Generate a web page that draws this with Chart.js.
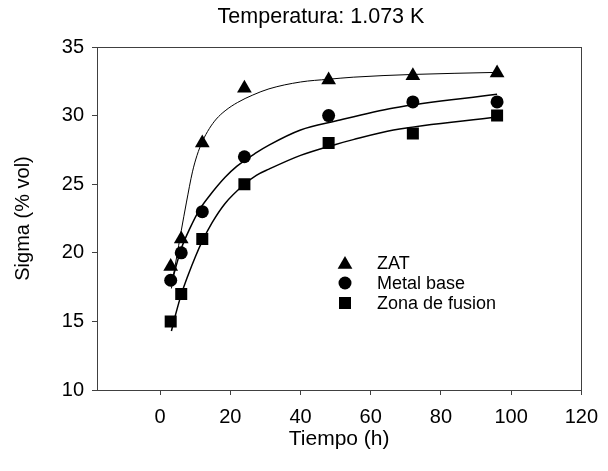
<!DOCTYPE html>
<html>
<head>
<meta charset="utf-8">
<script src="https://cdn.jsdelivr.net/npm/chart.js@4"></script>
<style>
  html, body { margin: 0; padding: 0; background: #fff; }
  #wrap { width: 608px; height: 471px; }
</style>
</head>
<body>
<div id="wrap"><canvas id="grafico"></canvas></div>
<script>
// datos medidos
const tiempo = [3, 6, 12, 24, 48, 72, 96];
const zat = [19, 21, 28, 32, 32.6, 32.9, 33.1];
const metalBase = [18, 20, 23, 27, 30, 31, 31];
const zonaFusion = [15, 17, 21, 25, 28, 28.7, 30];

// curvas de ajuste
const zatAjusteX = [3.2, 4.5, 6, 7.5, 9.2, 10.5, 12, 14, 16, 18.5, 22, 26.4, 31, 40, 48, 55, 72, 96];
const zatAjusteY = [17.4, 19.4, 21.6, 23.7, 25.9, 27.1, 28.1, 29.05, 29.75, 30.35, 30.95, 31.5, 31.95, 32.45, 32.65, 32.8, 33.0, 33.15];
const metalAjusteX = [3, 4.5, 6, 8.5, 11.1, 13.9, 18.5, 21.8, 27.4, 31, 40, 50, 66.5, 96];
const metalAjusteY = [17.6, 19.0, 20.3, 21.8, 23.1, 24.1, 25.5, 26.3, 27.3, 27.85, 28.95, 29.6, 30.55, 31.55];
const zonaAjusteX = [3.2, 4.5, 6, 8, 10, 12, 14.8, 18.5, 24, 27.4, 31, 40, 50, 55, 66.5, 96];
const zonaAjusteY = [14.3, 15.6, 16.95, 18.4, 19.7, 20.85, 22.2, 23.6, 25.0, 25.65, 26.1, 27.1, 27.9, 28.25, 28.95, 29.9];

const xTicks = [0, 20, 40, 60, 80, 100, 120];
const yTicks = [10, 15, 20, 25, 30, 35];
const nombres = ["ZAT", "Metal base", "Zona de fusion"];
const titulo = "Temperatura: 1.073 K";

const FONT = '"Liberation Sans", Arial, sans-serif';
const EJE = '#404040';

const pares = (xs, ys) => xs.map((x, i) => ({ x: x, y: ys[i] }));

function dibujarMarca(ctx, estilo, x, y, r) {
  ctx.beginPath();
  if (estilo === 'triangle') {
    ctx.moveTo(x, y - r);
    ctx.lineTo(x + r * 0.866, y + r * 0.5);
    ctx.lineTo(x - r * 0.866, y + r * 0.5);
    ctx.closePath();
  } else if (estilo === 'circle') {
    ctx.arc(x, y, r, 0, Math.PI * 2);
  } else {
    const s = r * Math.SQRT1_2;
    ctx.rect(x - s, y - s, 2 * s, 2 * s);
  }
  ctx.fill();
}

const marcas = [
  { estilo: 'triangle', r: 8.5 },
  { estilo: 'circle', r: 6.5 },
  { estilo: 'rect', r: 8.5 }
];

// marco, titulo y leyenda
const extras = {
  id: 'extras',
  afterDraw(chart) {
    const ctx = chart.ctx;
    const a = chart.chartArea;
    ctx.save();
    ctx.strokeStyle = EJE;
    ctx.lineWidth = 1;
    ctx.strokeRect(Math.round(a.left) + 0.5, Math.round(a.top) + 0.5,
      Math.round(a.right - a.left), Math.round(a.bottom - a.top));

    ctx.fillStyle = '#000';
    ctx.font = '21.5px ' + FONT;
    ctx.textAlign = 'center';
    ctx.textBaseline = 'middle';
    ctx.fillText(titulo, 321, 17);

    const lx = a.left + 248;
    const ly = a.top + 216;
    ctx.font = '18px ' + FONT;
    ctx.textAlign = 'left';
    nombres.forEach((n, i) => {
      const y = ly + i * 20;
      const m = marcas[i];
      dibujarMarca(ctx, m.estilo, lx, m.estilo === 'triangle' ? y + 1.5 : y, m.r);
      ctx.fillText(n, lx + 32, y + 1);
    });
    ctx.restore();
  }
};

const puntos = (datos, i) => ({
  type: 'scatter',
  data: pares(tiempo, datos),
  showLine: false,
  pointStyle: marcas[i].estilo,
  pointRadius: marcas[i].r,
  backgroundColor: '#000',
  borderColor: '#000',
  borderWidth: 0
});

const ajuste = (xs, ys, ancho) => ({
  type: 'line',
  data: pares(xs, ys),
  borderColor: '#000',
  borderWidth: ancho,
  pointRadius: 0,
  fill: false,
  cubicInterpolationMode: 'monotone'
});

new Chart(document.getElementById('grafico'), {
  data: {
    datasets: [
      ajuste(zatAjusteX, zatAjusteY, 1),
      ajuste(metalAjusteX, metalAjusteY, 1.5),
      ajuste(zonaAjusteX, zonaAjusteY, 1.5),
      puntos(zat, 0),
      puntos(metalBase, 1),
      puntos(zonaFusion, 2)
    ]
  },
  options: {
    responsive: true,
    maintainAspectRatio: false,
    animation: false,
    layout: { padding: { top: 47, right: 18, left: 0, bottom: 0 } },
    plugins: { legend: { display: false }, tooltip: { enabled: false }, title: { display: false } },
    scales: {
      x: {
        type: 'linear',
        min: -18,
        max: 120,
        afterBuildTicks: s => { s.ticks = xTicks.map(v => ({ value: v })); },
        afterFit: s => { s.height = 81; },
        grid: { drawOnChartArea: false, drawTicks: true, tickLength: 5, tickColor: EJE },
        border: { display: true, color: EJE, width: 1 },
        ticks: { color: '#000', font: { family: FONT, size: 20 }, padding: 10, maxRotation: 0 },
        title: { display: true, text: 'Tiempo (h)', color: '#000', font: { family: FONT, size: 21 }, padding: { bottom: 19 } }
      },
      y: {
        type: 'linear',
        min: 10,
        max: 35,
        afterBuildTicks: s => { s.ticks = yTicks.map(v => ({ value: v })); },
        afterFit: s => { s.width = 97; },
        grid: { drawOnChartArea: false, drawTicks: true, tickLength: 5, tickColor: EJE },
        border: { display: true, color: EJE, width: 1 },
        ticks: { color: '#000', font: { family: FONT, size: 20 }, padding: 8 },
        title: { display: true, text: 'Sigma (% vol)', color: '#000', font: { family: FONT, size: 20 }, padding: { top: 11 } }
      }
    }
  },
  plugins: [extras]
});
</script>
</body>
</html>
